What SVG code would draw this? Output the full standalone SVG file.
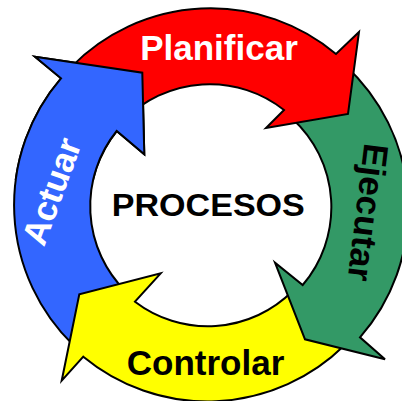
<svg xmlns="http://www.w3.org/2000/svg" xmlns:xlink="http://www.w3.org/1999/xlink" width="402" height="401" viewBox="0 0 402 401">
<style>
.arr{stroke:#000;stroke-width:2;stroke-linejoin:miter}
.lbl{font-family:"Liberation Sans",Arial,sans-serif;font-weight:bold;font-size:35px;text-anchor:middle}
.w{fill:#fff}
.k{fill:#000}
</style>
<defs>
<path id="blueShape" class="arr" fill="#3366FF" d="M73.5,345.3 A195,195 0 0 1 61,78.3 L35,56.7 L142.3,72.7 L144.3,154.3 L116.7,131 A120,120 0 0 0 125.6,291.3 Z"/>
<clipPath id="topClip"><rect x="0" y="0" width="200" height="180"/></clipPath>
</defs>
<rect x="0" y="0" width="402" height="401" fill="#fff"/>
<g id="actuar-arrow">
<use xlink:href="#blueShape" href="#blueShape"/>
</g>
<g id="controlar">
<path class="arr" fill="#FFFF00" d="M344.5,345.3 A195,195 0 0 1 83.3,356.7 L61.7,380.7 L79.3,294.3 L160.7,273.3 L135,301.7 A120,120 0 0 0 292.4,291.3 Z"/>
<text class="lbl k" x="205.5" y="375">Controlar</text>
</g>
<g id="ejecutar">
<path class="arr" fill="#339966" d="M344.5,64.7 A195,195 0 0 1 360,337.3 L385,359.3 L305,339.3 L275,262.7 L302.7,285 A120,120 0 0 0 292.4,118.7 Z"/>
<text class="lbl k" x="356" y="211" transform="rotate(97 356 211)">Ejecutar</text>
</g>
<g id="planificar">
<path class="arr" fill="#FF0000" d="M71.1,67.1 A195,195 0 0 1 336,54 L359,32 L348,114 L266,128 L284,110 A120,120 0 0 0 124.1,120.1 Z"/>
<text class="lbl w" x="219" y="60">Planificar</text>
</g>
<g id="actuar">
<use xlink:href="#blueShape" href="#blueShape" clip-path="url(#topClip)"/>
<text class="lbl w" x="63" y="195.5" transform="rotate(-70 63 195.5)">Actuar</text>
</g>
<g id="procesos">
<text class="lbl k" x="208.3" y="215.7" style="font-size:31px" textLength="193" lengthAdjust="spacingAndGlyphs">PROCESOS</text>
</g>
</svg>
